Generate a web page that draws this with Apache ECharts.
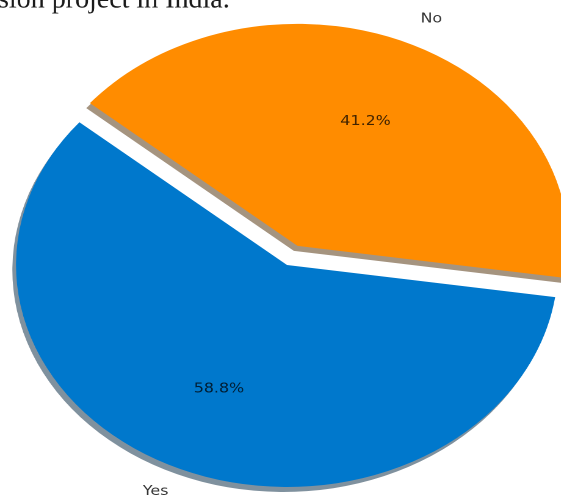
<!DOCTYPE html>
<html>
<head>
<meta charset="utf-8">
<script src="https://cdn.jsdelivr.net/npm/echarts@6/dist/echarts.min.js"></script>
<style>
  html, body { margin: 0; padding: 0; background: #fff; }
  #wrap { width: 561px; height: 495px; overflow: hidden; position: relative; }
  #c { position: absolute; left: 0; top: 0; height: 495px; transform-origin: 0 0; }
</style>
</head>
<body>
<div id="wrap"><div id="c"></div></div>
<script>
// ---- data ----
const categories = ['Yes', 'No'];
const values = [58.8, 41.2];
const explodedCategory = 'No';
const colors = ['#0078cc', '#ff8c00'];
const shadowColors = ['rgba(0,36,61,0.5)', 'rgba(76,42,0,0.5)'];
const pageText = 'sion project in India.';

// ---- layout (image was stretched horizontally) ----
const SX = 271 / 222;
const W = 561 / SX;
const el = document.getElementById('c');
el.style.width = W + 'px';
el.style.transform = 'scaleX(' + SX + ')';

const R = 222;
const CENTER = [287 / SX, 265];
const EXPLODE = 21;
// matplotlib-like side alignment of the outer labels (left of centre -> right-aligned, etc.)
const labelNudge = [-6, 8];

const chart = echarts.init(el, null, { renderer: 'canvas', devicePixelRatio: 2 });

function items(kind) {
  return categories.map((name, i) => {
    const d = {
      name: name,
      value: values[i],
      selected: name === explodedCategory
    };
    if (kind === 'wedge') {
      d.itemStyle = {
        color: colors[i],
        shadowColor: shadowColors[i],
        shadowBlur: 0,
        shadowOffsetX: -3,
        shadowOffsetY: 5
      };
      d.select = { itemStyle: { color: colors[i], borderWidth: 0 } };
    } else {
      d.itemStyle = { color: 'transparent' };
      d.select = { itemStyle: { color: 'transparent', borderWidth: 0 } };
      if (kind === 'name') {
        d.label = { offset: [labelNudge[i], 0] };
        d.select.label = { offset: [labelNudge[i], 0] };
      }
    }
    return d;
  });
}

const common = {
  type: 'pie',
  center: CENTER,
  startAngle: 140,
  clockwise: false,
  selectedMode: 'single',
  selectedOffset: EXPLODE,
  avoidLabelOverlap: false,
  labelLine: { show: false },
  emphasis: { disabled: true },
  animation: false
};

chart.setOption({
  animation: false,
  graphic: [{
    type: 'text',
    x: -2 / SX,
    y: 0,
    scaleX: 1 / SX,
    style: {
      text: pageText,
      font: '28px "Liberation Serif", "DejaVu Serif", serif',
      fill: '#1a1a1a',
      verticalAlign: 'middle',
      align: 'left'
    }
  }],
  series: [
    Object.assign({}, common, {
      name: 'wedges',
      radius: [0, R],
      label: { show: false },
      data: items('wedge'),
      z: 2
    }),
    Object.assign({}, common, {
      name: 'pct',
      radius: [0, R * 1.2],
      silent: true,
      label: {
        show: true,
        position: 'inside',
        formatter: p => p.value.toFixed(1) + '%',
        color: 'rgba(0,0,0,0.75)',
        fontFamily: 'DejaVu Sans',
        fontSize: 13
      },
      data: items('pct'),
      z: 3
    }),
    Object.assign({}, common, {
      name: 'names',
      radius: [0, R * 2.21],
      silent: true,
      label: {
        show: true,
        position: 'inside',
        formatter: '{b}',
        color: 'rgba(0,0,0,0.8)',
        fontFamily: 'DejaVu Sans',
        fontSize: 13
      },
      data: items('name'),
      z: 3
    })
  ]
});
</script>
</body>
</html>
